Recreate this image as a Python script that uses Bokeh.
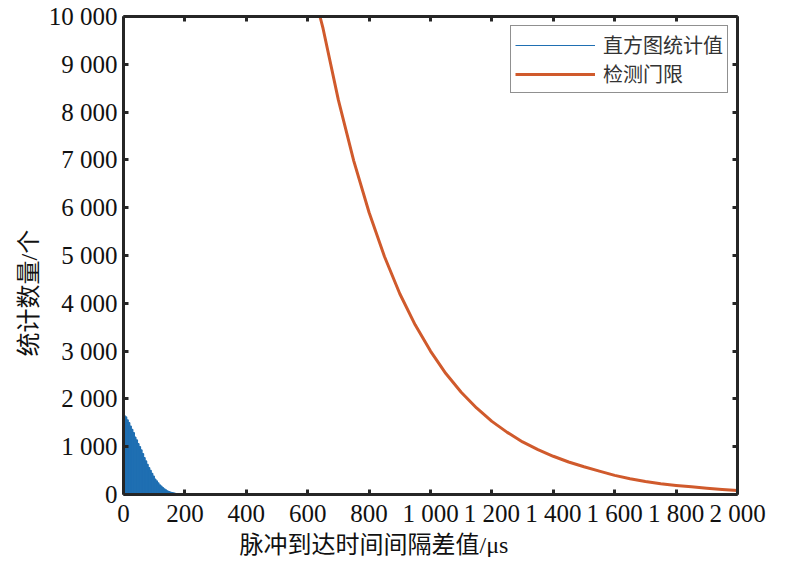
from bokeh.plotting import figure
from bokeh.models import FixedTicker, LinearAxis, Legend, LegendItem, Title, Range1d
from bokeh.embed import file_html
from bokeh.resources import INLINE

# ---- data ----
hist_bin_width = 5  # μs
hist_counts = [1650, 1620, 1560, 1500, 1430, 1360, 1290, 1200, 1140, 1060,
               1000, 930, 850, 770, 700, 630, 560, 500, 440, 380,
               320, 280, 240, 200, 170, 140, 115, 95, 75, 60,
               48, 38, 30, 22, 16, 12, 8, 5, 3, 2]

thr_x = [620, 640, 650, 700, 750, 800, 850, 900, 950, 1000, 1050, 1100, 1150,
         1200, 1250, 1300, 1350, 1400, 1450, 1500, 1550, 1600, 1650, 1700,
         1750, 1800, 1850, 1900, 1950, 2000]
thr_y = [10950, 10000, 9750, 8250, 6980, 5900, 4980, 4200, 3550, 3000, 2530, 2140, 1810,
         1530, 1300, 1100, 940, 800, 680, 580, 490, 400, 330, 270,
         225, 190, 160, 130, 105, 85]

x_ticks = [0, 200, 400, 600, 800, 1000, 1200, 1400, 1600, 1800, 2000]
x_tick_labels = ["0", "200", "400", "600", "800", "1 000", "1 200", "1 400", "1 600", "1 800", "2 000"]
y_ticks = [0, 1000, 2000, 3000, 4000, 5000, 6000, 7000, 8000, 9000, 10000]
y_tick_labels = ["0", "1 000", "2 000", "3 000", "4 000", "5 000", "6 000", "7 000", "8 000", "9 000", "10 000"]

legend_labels = ["直方图统计值", "检测门限"]
x_label = "脉冲到达时间间隔差值/μs"
y_label = "统计数量/个"

BLUE = "#1f6fb2"
RED = "#d05a2c"
AX = "#262626"
NUM_FONT = "Liberation Serif"
CJK_FONT = "Liberation Serif, Noto Sans CJK SC"

hist_x = [hist_bin_width * (i + 0.5) for i in range(len(hist_counts))]

p = figure(frame_width=614, frame_height=478, output_backend="svg", toolbar_location=None,
           x_range=Range1d(0, 2000), y_range=Range1d(0, 10000),
           min_border_left=123, min_border_right=47, min_border_top=16, min_border_bottom=0)
p.outline_line_color = None
p.xgrid.visible = False
p.ygrid.visible = False
p.background_fill_color = "white"
p.border_fill_color = "white"

p.vbar(x=hist_x, top=hist_counts, width=hist_bin_width, bottom=0,
       fill_color=BLUE, line_color=BLUE, line_width=1.5)
hist_leg = p.line(x=[float("nan")], y=[float("nan")], line_color=BLUE, line_width=1)
thr = p.line(x=thr_x, y=thr_y, line_color=RED, line_width=3, line_join="round")

def style_axis(ax, ticks, labels, show_labels=True):
    ax.ticker = FixedTicker(ticks=ticks)
    ax.axis_line_color = AX
    ax.axis_line_width = 3
    ax.major_tick_line_color = AX
    ax.major_tick_line_width = 3
    ax.major_tick_in = 5
    ax.major_tick_out = 0
    ax.minor_tick_line_color = None
    ax.major_label_text_font = NUM_FONT
    if show_labels:
        ax.major_label_overrides = {t: l for t, l in zip(ticks, labels)}
        ax.major_label_text_font_size = "25px"
        ax.major_label_text_color = "#111111"
    else:
        ax.major_label_text_font_size = "1px"
        ax.major_label_text_color = None
        ax.major_label_standoff = 0

style_axis(p.xaxis[0], x_ticks, x_tick_labels)
p.xaxis[0].major_label_standoff = 5
style_axis(p.yaxis[0], y_ticks, y_tick_labels)
p.yaxis[0].major_label_standoff = 6

top_ax = LinearAxis()
style_axis(top_ax, x_ticks, x_tick_labels, show_labels=False)
p.add_layout(top_ax, "above")
right_ax = LinearAxis()
style_axis(right_ax, y_ticks, y_tick_labels, show_labels=False)
p.add_layout(right_ax, "right")

yt = Title(text=y_label, align="left", offset=138, standoff=8,
           text_font=CJK_FONT, text_font_size="24px", text_font_style="normal",
           text_color="#111111")
p.add_layout(yt, "left")

xt = Title(text=x_label, align="left", offset=116, standoff=0,
           text_font=CJK_FONT, text_font_size="24px", text_font_style="normal",
           text_color="#111111")
p.add_layout(xt, "below")

legend = Legend(items=[LegendItem(label=legend_labels[0], renderers=[hist_leg]),
                       LegendItem(label=legend_labels[1], renderers=[thr])],
                location="top_right")
legend.label_text_font = CJK_FONT
legend.label_text_font_size = "20px"
legend.label_text_color = "#333333"
legend.glyph_width = 80
legend.glyph_height = 20
legend.label_standoff = 8
legend.label_height = 20
legend.spacing = 0
legend.padding = 4
legend.margin = 9
legend.border_line_color = "#222222"
legend.border_line_width = 1.5
legend.background_fill_alpha = 1
p.add_layout(legend)

open("out.html", "w").write(file_html(p, INLINE))
